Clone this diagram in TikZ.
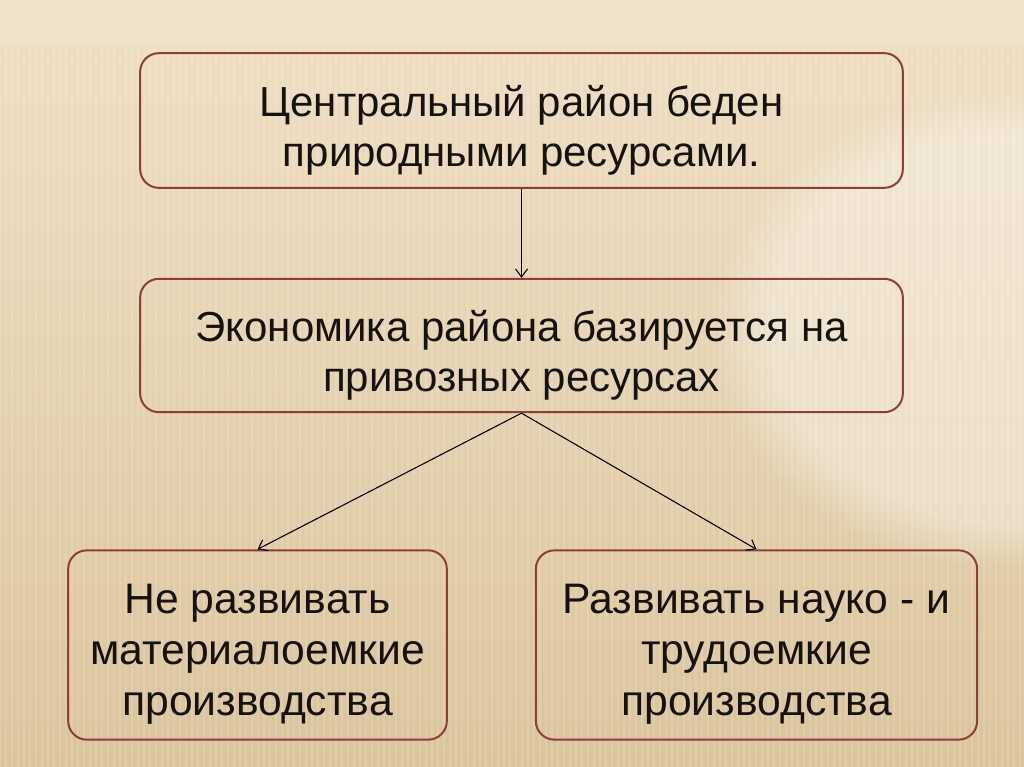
\documentclass[tikz,border=0pt]{standalone}
\usepackage{fontspec}
\setmainfont{Liberation Sans}
\usetikzlibrary{arrows.meta,fadings}
\definecolor{bgtop}{RGB}{241,227,203}
\definecolor{bghi}{RGB}{238,222,194}
\definecolor{bglo}{RGB}{219,196,156}
\definecolor{boxred}{RGB}{142,62,56}
\definecolor{txtcol}{RGB}{22,18,14}

\tikzset{
  framebox/.style={draw=boxred, line width=1.5pt, rounded corners=14pt, inner sep=0pt},
  toptext/.style={align=center, text=txtcol, yshift=-7pt,
                  font=\fontsize{31.5}{37.5}\selectfont},
  lowtext/.style={align=center, text=txtcol, yshift=-7pt,
                  font=\fontsize{32}{38.5}\selectfont},
  link/.style={-{Straight Barb[length=6pt,width=9pt]}, line width=0.8pt, black}
}

\begin{document}
\begin{tikzpicture}[x=0.75pt, y=-0.75pt]

% ---- background ----
\useasboundingbox (0,0) rectangle (1024,767);
\shade[top color=bghi, bottom color=bglo] (0,45) rectangle (1024,767);
\fill[bgtop] (0,0) rectangle (1024,45);
\fill[white, opacity=0.35, path fading=circle with fuzzy edge 20 percent]
  (1010,330) ellipse (300 and 240);

% faint stripes
\foreach \x in {0,6,...,1020} {
  \draw[white, opacity=0.14, line width=1.2pt] (\x,47) -- (\x,767);
}

% ---- boxes ----
\node[framebox, minimum width=572pt, minimum height=101pt,
      label={[toptext]center:{Центральный район беден\\природными ресурсами.}}]
  (poor) at (521.5,120.5) {};
\node[framebox, minimum width=572pt, minimum height=100pt,
      label={[toptext]center:{Экономика района базируется на\\привозных ресурсах}}]
  (imported) at (521.5,345.5) {};
\node[framebox, minimum width=284pt, minimum height=142pt,
      label={[lowtext]center:{Не развивать\\материалоемкие\\производства}}]
  (nomat) at (257.5,645) {};
\node[framebox, minimum width=331pt, minimum height=142pt,
      label={[lowtext]center:{Развивать науко - и\\трудоемкие\\производства}}]
  (sci) at (756.5,645) {};

% ---- links ----
\draw[link] (poor.south) -- (imported.north);
\draw[link] (imported.south) -- (nomat.north);
\draw[link] (imported.south) -- (sci.north);

\end{tikzpicture}
\end{document}
